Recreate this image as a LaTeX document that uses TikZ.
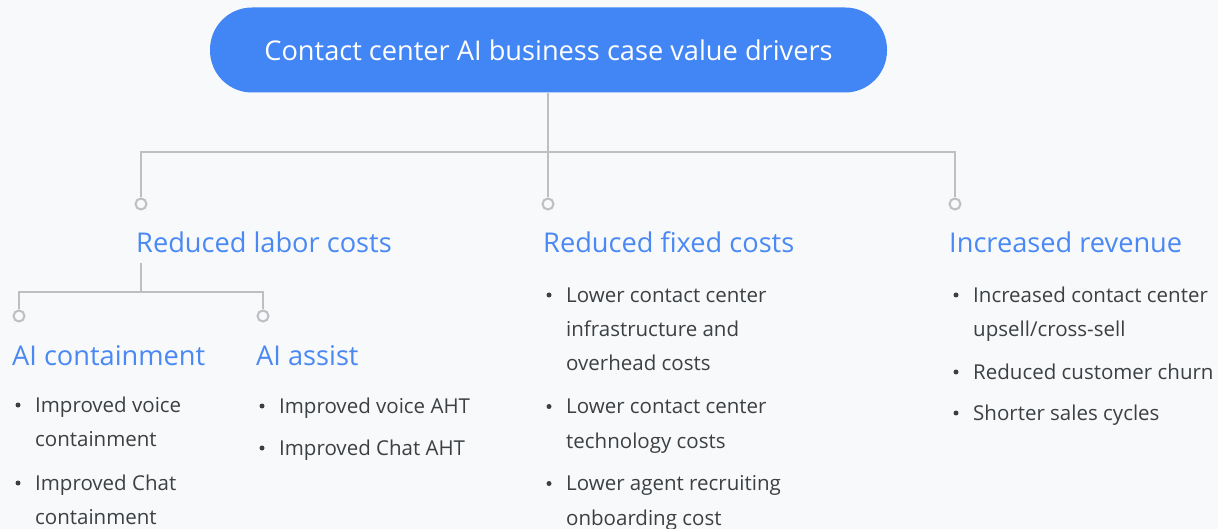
\documentclass[tikz,border=0pt]{standalone}
\usepackage{fontspec}
\setmainfont{Open Sans}
\usetikzlibrary{positioning,calc}

\definecolor{pillblue}{HTML}{4285F4}
\definecolor{headblue}{HTML}{4A89F3}
\definecolor{wiregray}{HTML}{BDBFC3}
\definecolor{bodygray}{HTML}{3C4043}
\definecolor{pagebg}{HTML}{F8F9FA}

% lines of one bullet item, first baseline on the node's base
\newcommand{\itemlines}[1]{\vtop{\baselineskip=34.5pt\halign{##\hfil\cr#1\cr}}}

\begin{document}
\begin{tikzpicture}[
    x=1pt, y=-1pt,
    pill/.style={fill=pillblue, rounded corners=42pt, minimum width=677pt, minimum height=85pt,
        text=white, font=\fontsize{27.2}{30}\selectfont},
    head/.style={anchor=base west, inner sep=0pt, text=headblue, font=\fontsize{27.2}{30}\selectfont},
    wire/.style={draw=wiregray, line width=2.6pt},
    ring/.style={circle, draw=wiregray, line width=2pt, fill=pagebg, minimum size=11pt, inner sep=0pt},
    bul/.style={circle, fill=bodygray, minimum size=5pt, inner sep=0pt},
    item/.style={anchor=base west, inner sep=0pt, text=bodygray, font=\fontsize{20.5}{34.5}\selectfont}
]
% bullet item: name, dot x, baseline y, lines
\newcommand{\bitem}[4]{%
  \node[bul] (#1d) at (#2, #3-7) {};
  \node[item] (#1) at (#2+17, #3) {\itemlines{#4}};
}

% Column positions
\def\colL{141}
\def\colM{548}
\def\colR{955}
\def\subA{19}
\def\subB{263}

% === Background ===
\fill[pagebg] (0,0) rectangle (1218,529);
\useasboundingbox (0,0) rectangle (1218,529);

% === Title ===
\node[pill] (title) at (548.5, 50) {Contact center AI business case value drivers};

% === First level wiring ===
\coordinate (jM) at (\colM, 152);
\coordinate (jL) at (\colL, 152);
\coordinate (jR) at (\colR, 152);
\node[ring] (rL) at (\colL, 204) {};
\node[ring] (rM) at (\colM, 204) {};
\node[ring] (rR) at (\colR, 204) {};

\draw[wire] (title.south -| jM) -- (jM);
\draw[wire] (rL) -- (jL) -- (jR) -- (rR);
\draw[wire] (jM) -- (rM);

% === Headings ===
\node[head] (labor) at (136, 253) {Reduced labor costs};
\node[head] (fixed) at (543, 253) {Reduced fixed costs};
\node[head] (revenue) at (949, 253) {Increased revenue};

% === Second level wiring (labor costs) ===
\coordinate (sTop) at (\colL, 263);
\coordinate (sMid) at (\colL, 292);
\coordinate (sA) at (\subA, 292);
\coordinate (sB) at (\subB, 292);
\node[ring] (rA) at (\subA, 316) {};
\node[ring] (rB) at (\subB, 316) {};

\draw[wire] (sTop) -- (sMid);
\draw[wire] (rA) -- (sA) -- (sB) -- (rB);

\node[head] (contain) at (12, 365) {AI containment};
\node[head] (assist) at (256, 365) {AI assist};

% === Bullet items ===
\bitem{c1}{18}{412}{Improved voice\cr containment}
\bitem{c2}{18}{490}{Improved Chat\cr containment}

\bitem{a1}{262}{413}{Improved voice AHT}
\bitem{a2}{262}{455}{Improved Chat AHT}

\bitem{f1}{549}{302}{Lower contact center\cr infrastructure and\cr overhead costs}
\bitem{f2}{549}{413.5}{Lower contact center\cr technology costs}
\bitem{f3}{549}{490.5}{Lower agent recruiting\cr onboarding cost}

\bitem{v1}{956}{302}{Increased contact center\cr upsell/cross-sell}
\bitem{v2}{956}{379}{Reduced customer churn}
\bitem{v3}{956}{420}{Shorter sales cycles}

\end{tikzpicture}
\end{document}
